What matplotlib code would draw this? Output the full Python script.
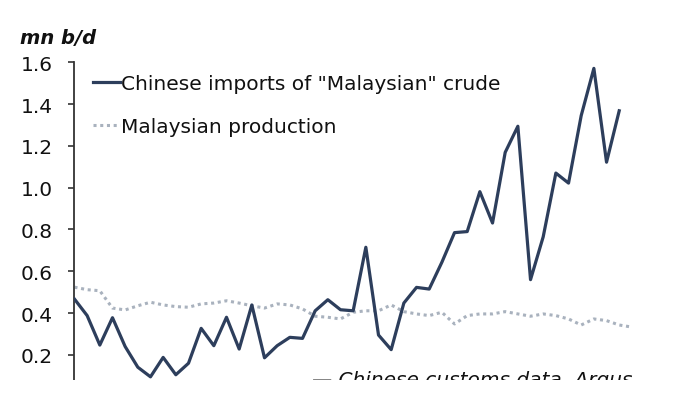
import matplotlib.pyplot as plt
from matplotlib.patches import Rectangle
import numpy as np

# Chinese imports of "Malaysian" crude, mn b/d (monthly)
imports = [0.467, 0.388, 0.247, 0.378, 0.240, 0.141, 0.095, 0.188, 0.105, 0.160,
           0.327, 0.244, 0.380, 0.228, 0.439, 0.186, 0.244, 0.284, 0.279, 0.411,
           0.464, 0.416, 0.411, 0.715, 0.295, 0.225, 0.448, 0.523, 0.515, 0.643,
           0.785, 0.790, 0.981, 0.831, 1.169, 1.294, 0.560, 0.765, 1.070, 1.022,
           1.345, 1.571, 1.122, 1.368]
# Malaysian production, mn b/d
production = [0.524, 0.512, 0.507, 0.424, 0.415, 0.435, 0.452, 0.439, 0.431, 0.428,
              0.444, 0.448, 0.459, 0.448, 0.435, 0.424, 0.444, 0.439, 0.420, 0.385,
              0.380, 0.372, 0.404, 0.411, 0.411, 0.439, 0.407, 0.396, 0.388, 0.404,
              0.348, 0.388, 0.396, 0.396, 0.407, 0.396, 0.385, 0.396, 0.388, 0.372,
              0.343, 0.372, 0.364, 0.343, 0.333]
yticks = [0.2, 0.4, 0.6, 0.8, 1.0, 1.2, 1.4, 1.6]

plt.rcParams['font.family'] = ['DejaVu Sans']

fig = plt.figure(figsize=(6.74, 4.14), dpi=100)
ax = fig.add_axes([0.1105, 0.0394, 0.827, 0.8077])

ax.plot(np.arange(len(imports)), imports, color='#2d3e5c', lw=2.3,
        label='Chinese imports of "Malaysian" crude', zorder=3)
ax.plot(np.arange(len(production)), production, color='#a9b2be', lw=2.2,
        linestyle=(0, (1, 1.2)), label='Malaysian production', zorder=2)

ax.set_xlim(0, 44)
ax.set_ylim(0, 1.6)
ax.set_yticks(yticks)
ax.set_yticklabels(['%.1f' % v for v in yticks])
ax.set_xticks([])
for s in ['top', 'right', 'bottom']:
    ax.spines[s].set_visible(False)
ax.spines['left'].set_color('#333333')
ax.spines['left'].set_linewidth(1.3)
ax.tick_params(axis='y', length=4.5, width=1.2, color='#333333', pad=11,
               labelsize=14.5, labelcolor='#111111')

leg = ax.legend(loc='upper left', bbox_to_anchor=(0.018, 0.99), frameon=False,
                handlelength=1.35, handletextpad=0.05, labelspacing=1.2,
                fontsize=14.5, borderaxespad=0)
for t in leg.get_texts():
    t.set_color('#111111')

fig.text(0.03, 0.893, 'mn b/d', fontsize=14, style='italic', weight='bold',
         color='#111111')
fig.text(0.938, 1 - 386 / 414, '\u2014 Chinese customs data, Argus', fontsize=14.5,
         style='italic', ha='right', va='baseline', color='#111111')

# the reference image is cut off just below the plot
fig.add_artist(Rectangle((0, 0), 1, 1 - 381 / 414, transform=fig.transFigure,
                         facecolor='white', edgecolor='none', zorder=20))

fig.savefig('out.png', dpi=100)
